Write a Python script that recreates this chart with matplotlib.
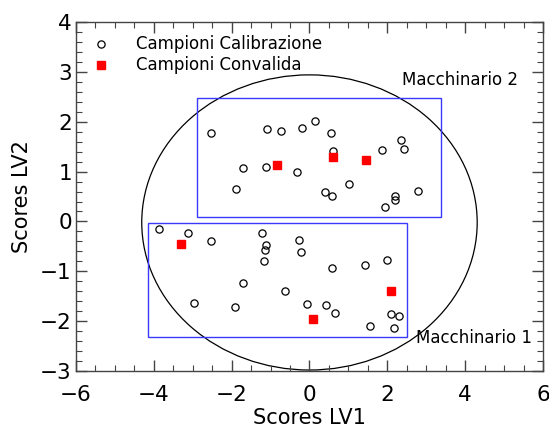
import numpy as np
import matplotlib.pyplot as plt
from matplotlib.patches import Rectangle, Ellipse
from matplotlib.ticker import MultipleLocator

# campioni di calibrazione (cerchi vuoti)
cal_x = [-2.52, -1.08, -0.72, -0.18, 0.15, 0.55, 2.36, 2.44, 1.86, 0.60,
         -1.71, -1.11, -0.32, -1.89, 0.40, 0.59, 1.02, 2.20, 2.20, 1.93, 2.79,
         -3.87, -3.13, -2.52, -1.23, -1.11, -1.14, -1.17, -0.28, -0.22, 0.57,
         1.43, 1.98, -1.72, -0.62, -2.97, -1.92, -0.06, 0.42, 0.66, 2.10,
         2.29, 1.56, 2.17]
cal_y = [1.78, 1.85, 1.81, 1.87, 2.01, 1.78, 1.64, 1.45, 1.43, 1.41,
         1.08, 1.10, 1.00, 0.65, 0.59, 0.51, 0.75, 0.52, 0.44, 0.28, 0.61,
         -0.16, -0.23, -0.40, -0.23, -0.47, -0.57, -0.80, -0.38, -0.61, -0.94,
         -0.88, -0.78, -1.23, -1.39, -1.64, -1.71, -1.65, -1.67, -1.83, -1.86,
         -1.90, -2.09, -2.14]

# campioni di convalida (quadrati rossi)
val_x = [-0.84, 0.60, 1.44, -3.31, 0.09, 2.10]
val_y = [1.14, 1.29, 1.24, -0.45, -1.96, -1.39]

# riquadri dei due macchinari: (x0, y0, x1, y1)
box_m2 = (-2.89, 0.08, 3.39, 2.47)
box_m1 = (-4.15, -2.32, 2.51, -0.04)

# ellisse di confidenza
ell_center = (0.0, -0.02)
ell_w, ell_h = 8.62, 5.92

plt.rcParams['font.family'] = 'DejaVu Sans'

fig = plt.figure(figsize=(5.49, 4.37), dpi=100)
ax = fig.add_axes([0.1384, 0.151, 0.8506, 0.7986])

ell = Ellipse(ell_center, ell_w, ell_h, fill=False, edgecolor='black', lw=0.9)
ax.add_patch(ell)

for b in (box_m2, box_m1):
    ax.add_patch(Rectangle((b[0], b[1]), b[2] - b[0], b[3] - b[1],
                           fill=False, edgecolor='#3a3aff', lw=1.0))

ax.plot(cal_x, cal_y, 'o', mfc='none', mec='black', ms=5.2, mew=0.9,
        linestyle='none')
ax.plot(val_x, val_y, 's', mfc='#ff0000', mec='#ff0000', ms=6.2,
        linestyle='none')

# legenda fatta a mano
ax.plot([-5.36], [3.553], 'o', mfc='none', mec='black', ms=5.2, mew=0.9)
ax.plot([-5.36], [3.138], 's', mfc='#ff0000', mec='#ff0000', ms=6.2)
ax.text(-4.46, 3.553, 'Campioni Calibrazione', fontsize=12, va='center')
ax.text(-4.46, 3.138, 'Campioni Convalida', fontsize=12, va='center')

ax.text(2.38, 2.74, 'Macchinario 2', fontsize=12, va='baseline')
ax.text(2.74, -2.43, 'Macchinario 1', fontsize=12, va='baseline')

ax.set_xlim(-6, 6)
ax.set_ylim(-3, 4)
ax.xaxis.set_major_locator(MultipleLocator(2))
ax.xaxis.set_minor_locator(MultipleLocator(0.5))
ax.yaxis.set_major_locator(MultipleLocator(1))
ax.yaxis.set_minor_locator(MultipleLocator(0.2))
ax.tick_params(which='both', direction='in', top=True, right=True,
               color='#444444')
ax.tick_params(which='major', length=8, width=1, labelsize=15.5)
ax.tick_params(axis='x', which='major', pad=10)
ax.tick_params(axis='y', which='major', pad=3)
ax.tick_params(which='minor', length=4.5, width=0.8)
for s in ax.spines.values():
    s.set_color('#444444')
    s.set_linewidth(1)

ax.set_xlabel('Scores LV1', fontsize=15, labelpad=2)
ax.set_ylabel('Scores LV2', fontsize=15, labelpad=6)

fig.savefig('out.png', dpi=100)
